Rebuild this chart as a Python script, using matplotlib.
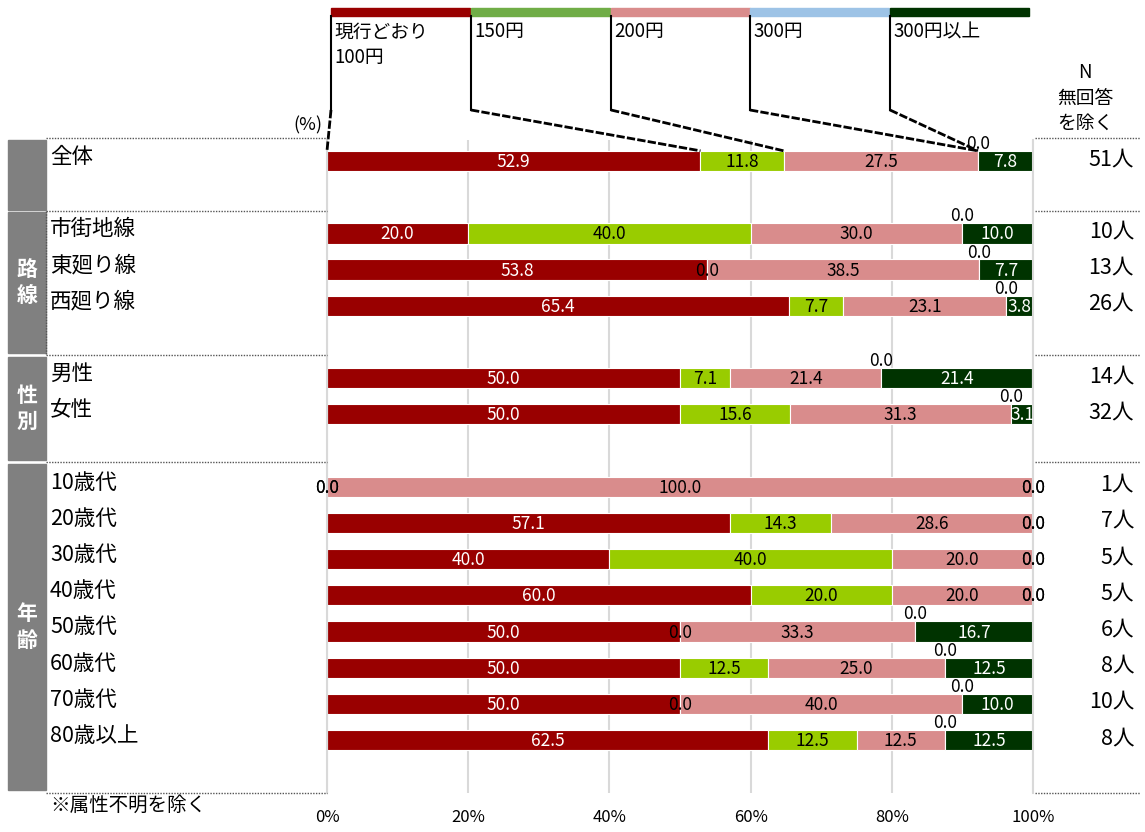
import matplotlib
matplotlib.use("Agg")
import matplotlib.pyplot as plt
from matplotlib.patches import Rectangle
import numpy as np

plt.rcParams['font.family'] = ['Noto Sans CJK JP', 'DejaVu Sans']

# ---------------- data ----------------
series_names = ["現行どおり\n100円", "150円", "200円", "300円", "300円以上"]
categories = ["全体", "市街地線", "東廻り線", "西廻り線", "男性", "女性",
              "10歳代", "20歳代", "30歳代", "40歳代", "50歳代", "60歳代", "70歳代", "80歳以上"]
row_slots = [0, 2, 3, 4, 6, 7, 9, 10, 11, 12, 13, 14, 15, 16]
v100 = [52.9, 20.0, 53.8, 65.4, 50.0, 50.0, 0.0, 57.1, 40.0, 60.0, 50.0, 50.0, 50.0, 62.5]
v150 = [11.8, 40.0, 0.0, 7.7, 7.1, 15.6, 0.0, 14.3, 40.0, 20.0, 0.0, 12.5, 0.0, 12.5]
v200 = [27.5, 30.0, 38.5, 23.1, 21.4, 31.3, 100.0, 28.6, 20.0, 20.0, 33.3, 25.0, 40.0, 12.5]
v300 = [0.0] * 14
v300p = [7.8, 10.0, 7.7, 3.8, 21.4, 3.1, 0.0, 0.0, 0.0, 0.0, 16.7, 12.5, 10.0, 12.5]
n_counts = ["51人", "10人", "13人", "26人", "14人", "32人", "1人", "7人", "5人", "5人", "6人", "8人", "10人", "8人"]
groups = [("", 0, 0), ("路\n線", 2, 4), ("性\n別", 6, 7), ("年\n齢", 9, 16)]
xticks = [0, 20, 40, 60, 80, 100]
xtick_labels = ["0%", "20%", "40%", "60%", "80%", "100%"]

bar_colors = ["#990000", "#99CC00", "#D98C8C", "#9DC3E6", "#003300"]
legend_colors = ["#990000", "#70AD47", "#D98C8C", "#9DC3E6", "#003300"]
text_colors = ["white", "black", "black", "black", "white"]

W, H = 1145, 832
fig = plt.figure(figsize=(W / 100, H / 100), dpi=100)

# main axes (pixel layout)
x0, x1, ytop, ybot = 327, 1033, 140, 793
ax = fig.add_axes([x0 / W, 1 - ybot / H, (x1 - x0) / W, (ybot - ytop) / H])
spacing = 36.2
ax.set_xlim(0, 100)
ax.set_ylim(16 + (ybot - 740) / spacing, -(161 - ytop) / spacing)
ax.set_axisbelow(True)
ax.xaxis.grid(True, color="#D9D9D9", lw=1.5)
ax.set_xticks(xticks)
ax.set_xticklabels([])
ax.tick_params(length=0)
ax.set_yticks([])
for s in ["top", "bottom"]:
    ax.spines[s].set_visible(False)
for s in ["left", "right"]:
    ax.spines[s].set_color("#D9D9D9")
    ax.spines[s].set_linewidth(1.5)

vals = np.array([v100, v150, v200, v300, v300p])
bh = 0.56
left = np.zeros(len(categories))
for k in range(5):
    ax.barh(row_slots, vals[k], left=left, height=bh, color=bar_colors[k],
            edgecolor="white", linewidth=0.8)
    for i, y in enumerate(row_slots):
        v = vals[k][i]
        cx = left[i] + v / 2
        if v > 0:
            ax.text(cx, y + 0.03, f"{v:.1f}", ha="center", va="center",
                    fontsize=12.5, color=text_colors[k])
        else:
            dy = 0.03
            if k == 3 and vals[4][i] > 0:
                dy = -0.47
            ax.text(cx, y + dy, "0.0", ha="center", va="center",
                    fontsize=12.5, color="black", clip_on=False)
    left = left + vals[k]

# overlay in pixel coordinates for decorations
ov = fig.add_axes([0, 0, 1, 1])
ov.set_xlim(0, W)
ov.set_ylim(H, 0)
ov.axis("off")
ov.patch.set_visible(False)

# x tick labels
for t, lab in zip(xticks, xtick_labels):
    px = ax.transData.transform((t, 0))[0]
    ov.text(px, 818, lab, ha="center", va="center", fontsize=12)

# legend bars + labels + connectors
leg_x = [331, 471, 611, 750, 890]
leg_w = 139
cum0 = np.concatenate([[0], np.cumsum(vals[:, 0])[:-1]])
for k in range(5):
    ov.add_patch(Rectangle((leg_x[k], 8), leg_w, 8, color=legend_colors[k]))
    for j, line in enumerate(series_names[k].split("\n")):
        ov.text(leg_x[k] + 3, 32 + 25 * j, line, ha="left", va="center",
                fontsize=13.5)
    ov.plot([leg_x[k], leg_x[k]], [16, 110], color="black", lw=1.5)
    disp = ax.transData.transform((cum0[k], row_slots[0] - bh / 2))
    ex, ey = ov.transData.inverted().transform(disp)
    ov.plot([leg_x[k], ex], [110, ey], color="black", lw=2, linestyle=(0, (3, 0.8)))

ov.text(322, 125, "(%)", ha="right", va="center", fontsize=13)
for j, line in enumerate(["N", "無回答", "を除く"]):
    ov.text(1085, 73 + 25 * j, line, ha="center", va="center", fontsize=13.5)

# left group boxes
box_bounds = [(140, 210), (212, 353), (357, 460), (464, 790)]
for (lab, a, b), (yt, yb) in zip(groups, box_bounds):
    ov.add_patch(Rectangle((8, yt), 38, yb - yt, color="#808080"))
    if lab:
        ov.text(27, (yt + yb) / 2, lab, ha="center", va="center", color="white",
                fontsize=15, fontweight="bold", linespacing=1.3)

# dotted separators
for yy in [138, 211, 355, 462, 793]:
    ov.plot([46, 327], [yy, yy], color="#555555", lw=1, linestyle=(0, (1, 1)))
    ov.plot([1035, 1140], [yy, yy], color="#555555", lw=1, linestyle=(0, (1, 1)))
ov.plot([46, 46], [211, 355], color="#555555", lw=1, linestyle=(0, (1, 1)))

# category and N labels
for i, y in enumerate(row_slots):
    py = ov.transData.inverted().transform(ax.transData.transform((0, y)))[1]
    ov.text(50, py - 4, categories[i], ha="left", va="center", fontsize=15.5)
    ov.text(1134, py - 2, n_counts[i], ha="right", va="center", fontsize=15.5)

ov.text(50, 805, "※属性不明を除く", ha="left", va="center", fontsize=14)

fig.savefig("out.png", dpi=100)
